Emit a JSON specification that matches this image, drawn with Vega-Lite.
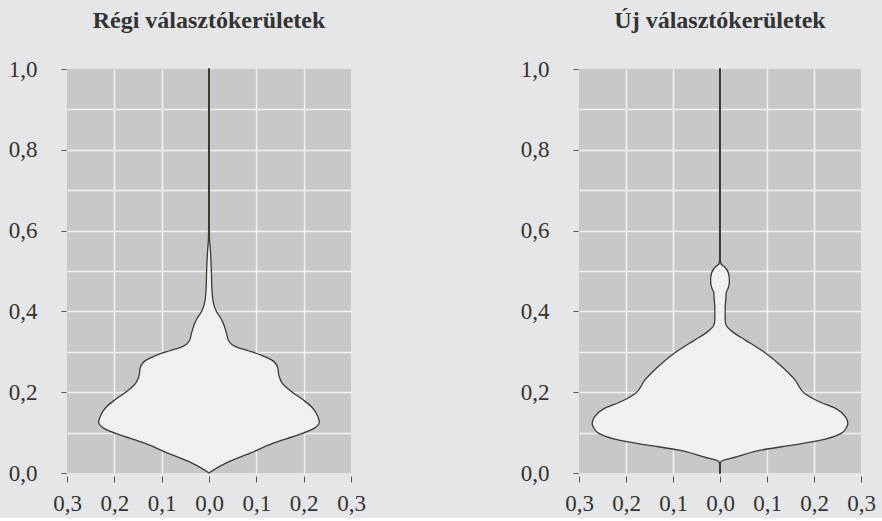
{
  "$schema": "https://vega.github.io/schema/vega-lite/v6.json",
  "background": "#e6e6e8",
  "padding": {"left": 8, "top": 9, "right": 8, "bottom": 3},
  "datasets": {
    "regi": [
      {"y": 0.000, "left": 0.000, "right": 0.000},
      {"y": 0.012, "left": -0.016, "right": 0.016},
      {"y": 0.025, "left": -0.037, "right": 0.037},
      {"y": 0.049, "left": -0.087, "right": 0.087},
      {"y": 0.074, "left": -0.136, "right": 0.136},
      {"y": 0.095, "left": -0.190, "right": 0.190},
      {"y": 0.108, "left": -0.218, "right": 0.218},
      {"y": 0.125, "left": -0.233, "right": 0.233},
      {"y": 0.140, "left": -0.230, "right": 0.230},
      {"y": 0.162, "left": -0.218, "right": 0.218},
      {"y": 0.180, "left": -0.200, "right": 0.200},
      {"y": 0.200, "left": -0.176, "right": 0.176},
      {"y": 0.222, "left": -0.155, "right": 0.155},
      {"y": 0.240, "left": -0.148, "right": 0.148},
      {"y": 0.262, "left": -0.145, "right": 0.145},
      {"y": 0.280, "left": -0.132, "right": 0.132},
      {"y": 0.292, "left": -0.110, "right": 0.110},
      {"y": 0.302, "left": -0.085, "right": 0.085},
      {"y": 0.313, "left": -0.056, "right": 0.056},
      {"y": 0.326, "left": -0.042, "right": 0.042},
      {"y": 0.346, "left": -0.037, "right": 0.037},
      {"y": 0.371, "left": -0.030, "right": 0.030},
      {"y": 0.383, "left": -0.025, "right": 0.025},
      {"y": 0.395, "left": -0.018, "right": 0.018},
      {"y": 0.410, "left": -0.012, "right": 0.012},
      {"y": 0.430, "left": -0.008, "right": 0.008},
      {"y": 0.460, "left": -0.006, "right": 0.006},
      {"y": 0.500, "left": -0.005, "right": 0.005},
      {"y": 0.550, "left": -0.003, "right": 0.003},
      {"y": 0.580, "left": -0.0012, "right": 0.0012},
      {"y": 0.620, "left": -0.0008, "right": 0.0008},
      {"y": 1.000, "left": -0.0008, "right": 0.0008}
    ],
    "uj": [
      {"y": 0.000, "left": -0.0008, "right": 0.0008},
      {"y": 0.020, "left": -0.0008, "right": 0.0008},
      {"y": 0.028, "left": -0.002, "right": 0.002},
      {"y": 0.040, "left": -0.035, "right": 0.035},
      {"y": 0.057, "left": -0.089, "right": 0.089},
      {"y": 0.070, "left": -0.160, "right": 0.160},
      {"y": 0.084, "left": -0.224, "right": 0.224},
      {"y": 0.098, "left": -0.258, "right": 0.258},
      {"y": 0.112, "left": -0.269, "right": 0.269},
      {"y": 0.123, "left": -0.272, "right": 0.272},
      {"y": 0.139, "left": -0.267, "right": 0.267},
      {"y": 0.160, "left": -0.246, "right": 0.246},
      {"y": 0.177, "left": -0.210, "right": 0.210},
      {"y": 0.197, "left": -0.180, "right": 0.180},
      {"y": 0.230, "left": -0.160, "right": 0.160},
      {"y": 0.263, "left": -0.132, "right": 0.132},
      {"y": 0.296, "left": -0.098, "right": 0.098},
      {"y": 0.329, "left": -0.054, "right": 0.054},
      {"y": 0.345, "left": -0.032, "right": 0.032},
      {"y": 0.354, "left": -0.022, "right": 0.022},
      {"y": 0.366, "left": -0.013, "right": 0.013},
      {"y": 0.380, "left": -0.011, "right": 0.011},
      {"y": 0.410, "left": -0.011, "right": 0.011},
      {"y": 0.432, "left": -0.0125, "right": 0.0125},
      {"y": 0.445, "left": -0.013, "right": 0.013},
      {"y": 0.460, "left": -0.018, "right": 0.018},
      {"y": 0.477, "left": -0.020, "right": 0.020},
      {"y": 0.495, "left": -0.018, "right": 0.018},
      {"y": 0.510, "left": -0.010, "right": 0.010},
      {"y": 0.518, "left": -0.002, "right": 0.002},
      {"y": 0.530, "left": -0.0008, "right": 0.0008},
      {"y": 1.000, "left": -0.0008, "right": 0.0008}
    ]
  },
  "config": {
    "font": "Liberation Serif",
    "view": {"fill": "#c8c8ca", "stroke": null},
    "axis": {
      "domain": false,
      "gridColor": "#f2f2f2",
      "gridWidth": 1.5,
      "tickColor": "#555555",
      "labelFont": "Liberation Serif",
      "labelFontSize": 23,
      "labelColor": "#333333",
      "labelFlush": false,
      "labelOverlap": false,
      "title": null
    },
    "title": {"font": "Liberation Serif", "fontSize": 24, "fontWeight": "bold", "color": "#333333", "anchor": "middle", "offset": 25},
    "concat": {"spacing": 154}
  },
  "hconcat": [
    {
      "width": 284,
      "height": 404,
      "title": {"text": "Régi választókerületek"},
      "data": {"name": "regi"},
      "mark": {"type": "area", "orient": "horizontal", "interpolate": "monotone", "fill": "#f0f0f2", "opacity": 1, "stroke": "#3b3b33", "strokeWidth": 1.3},
      "encoding": {
        "y": {"field": "y", "type": "quantitative", "scale": {"domain": [0, 1], "nice": false},
          "axis": {"values": [0, 0.1, 0.2, 0.3, 0.4, 0.5, 0.6, 0.7, 0.8, 0.9, 1.0],
            "labelExpr": "round(datum.value*10)%2==1 ? '' : replace(format(datum.value,'.1f'),'.',',')",
            "tickOpacity": {"condition": {"test": "round(datum.value*10)%2==1", "value": 0}, "value": 1},
            "gridOpacity": {"condition": {"test": "datum.value<0.01 || datum.value>0.99", "value": 0}, "value": 1},
            "offset": 1, "tickSize": 5, "labelPadding": 24}},
        "x": {"field": "left", "type": "quantitative", "scale": {"domain": [-0.3, 0.3], "nice": false},
          "axis": {"values": [-0.3, -0.2, -0.1, 0, 0.1, 0.2, 0.3],
            "labelExpr": "replace(format(abs(datum.value),'.1f'),'.',',')",
            "gridOpacity": {"condition": {"test": "abs(datum.value)>0.29", "value": 0}, "value": 1},
            "offset": 3, "tickSize": 6, "labelPadding": 10}},
        "x2": {"field": "right"}
      }
    },
    {
      "width": 282,
      "height": 404,
      "title": {"text": "Új választókerületek"},
      "data": {"name": "uj"},
      "mark": {"type": "area", "orient": "horizontal", "interpolate": "monotone", "fill": "#f0f0f2", "opacity": 1, "stroke": "#3b3b33", "strokeWidth": 1.3},
      "encoding": {
        "y": {"field": "y", "type": "quantitative", "scale": {"domain": [0, 1], "nice": false},
          "axis": {"values": [0, 0.1, 0.2, 0.3, 0.4, 0.5, 0.6, 0.7, 0.8, 0.9, 1.0],
            "labelExpr": "round(datum.value*10)%2==1 ? '' : replace(format(datum.value,'.1f'),'.',',')",
            "tickOpacity": {"condition": {"test": "round(datum.value*10)%2==1", "value": 0}, "value": 1},
            "gridOpacity": {"condition": {"test": "datum.value<0.01 || datum.value>0.99", "value": 0}, "value": 1},
            "offset": 1, "tickSize": 5, "labelPadding": 24}},
        "x": {"field": "left", "type": "quantitative", "scale": {"domain": [-0.3, 0.3], "nice": false},
          "axis": {"values": [-0.3, -0.2, -0.1, 0, 0.1, 0.2, 0.3],
            "labelExpr": "replace(format(abs(datum.value),'.1f'),'.',',')",
            "gridOpacity": {"condition": {"test": "abs(datum.value)>0.29", "value": 0}, "value": 1},
            "offset": 3, "tickSize": 6, "labelPadding": 10}},
        "x2": {"field": "right"}
      }
    }
  ]
}
